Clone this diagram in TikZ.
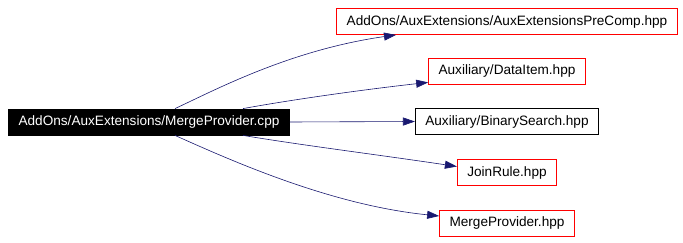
\documentclass[tikz,border=0pt]{standalone}
\usepackage{fontspec}
\setmainfont{Liberation Sans}
\usepackage{xcolor}
\usetikzlibrary{arrows.meta}
\definecolor{edgeblue}{RGB}{25,25,112}

\tikzset{
  file/.style={draw, thick, inner xsep=10pt, minimum height=26pt,
    font=\fontsize{13.6}{16}\selectfont},
  missing/.style={file, draw=red},
  dep/.style={edgeblue, semithick, -{Triangle[length=12pt,width=8pt]}}
}

\begin{document}
\begin{tikzpicture}[x=1pt, y=-1pt]
    \useasboundingbox (0,0) rectangle (683,243);

    % --- Source file (left) ---
    \node[file, fill=black, text=white] (mergecpp) at (149,122) {AddOns/AuxExtensions/MergeProvider.cpp};

    % --- Included headers (right column) ---
    \node[missing] (precomp) at (507,21.5) {AddOns/AuxExtensions/AuxExtensionsPreComp.hpp};
    \node[missing] (dataitem) at (507,71) {Auxiliary/DataItem.hpp};
    \node[file] (binsearch) at (507,121.5) {Auxiliary/BinarySearch.hpp};
    \node[missing] (joinrule) at (507,172.5) {JoinRule.hpp};
    \node[missing] (mergehpp) at (507,223) {MergeProvider.hpp};

    % --- Include edges ---
    \draw[dep] ([xshift=26pt]mergecpp.north) .. controls (215,90) and (290,50) .. ([xshift=-111pt]precomp.south);
    \draw[dep] ([xshift=94pt]mergecpp.north) .. controls (290,100) and (360,90) .. ([yshift=2pt]dataitem.south west);
    \draw[dep] (mergecpp.east) -- (binsearch.west);
    \draw[dep] ([xshift=94pt]mergecpp.south) .. controls (300,145) and (380,155) .. ([yshift=6pt]joinrule.west);
    \draw[dep] ([xshift=26pt]mergecpp.south) .. controls (230,160) and (330,205) .. ([yshift=7pt]mergehpp.west);

\end{tikzpicture}
\end{document}
